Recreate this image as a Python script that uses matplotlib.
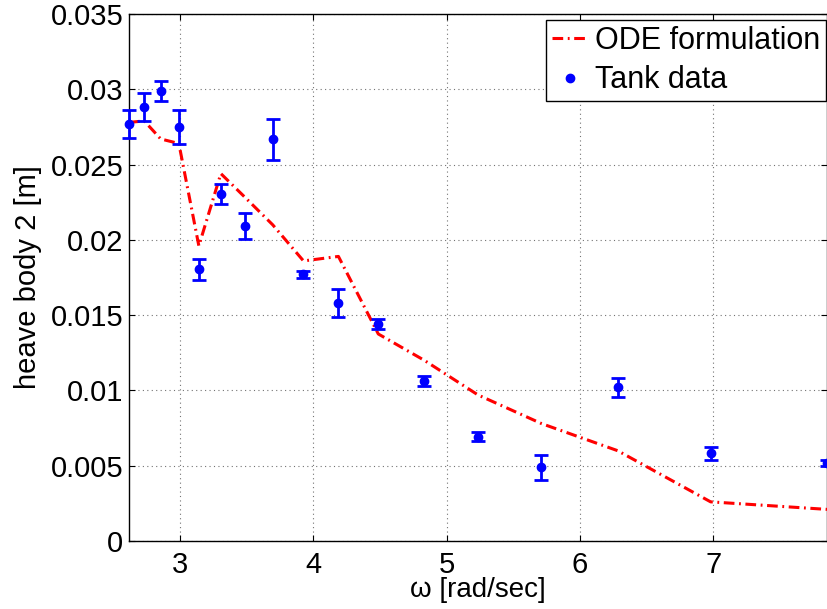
import matplotlib
matplotlib.use("Agg")
import matplotlib.pyplot as plt
from matplotlib.lines import Line2D

# Data
omega = [2.618, 2.732, 2.856, 2.992, 3.142, 3.307, 3.491, 3.696, 3.927,
         4.189, 4.488, 4.833, 5.236, 5.712, 6.283, 6.981, 7.854]
ode_heave = [0.0278, 0.0279, 0.0267, 0.0264, 0.0196, 0.0244, 0.0228, 0.0210,
             0.0186, 0.0189, 0.01375, 0.0120, 0.0097, 0.0078, 0.0060, 0.0026, 0.0021]
tank_heave = [0.02769, 0.02884, 0.0299, 0.02747, 0.01804, 0.02304, 0.02092,
              0.02667, 0.01771, 0.01578, 0.01439, 0.01062, 0.00693, 0.00489,
              0.01021, 0.00582, 0.00516]
tank_err = [0.00092, 0.00092, 0.00068, 0.00113, 0.0007, 0.00068, 0.00088,
            0.00137, 0.00024, 0.00093, 0.00033, 0.00035, 0.0003, 0.00083,
            0.00064, 0.00044, 0.0002]

x_ticks = [3, 4, 5, 6, 7]
y_ticks = [0, 0.005, 0.01, 0.015, 0.02, 0.025, 0.03, 0.035]
y_ticklabels = ["0", "0.005", "0.01", "0.015", "0.02", "0.025", "0.03", "0.035"]

plt.rcParams['font.family'] = ['Liberation Sans', 'DejaVu Sans']

fig = plt.figure(figsize=(8.27, 6.09), dpi=100)
ax = fig.add_axes([129 / 827, 68 / 609, 698 / 827, 527 / 609])

ode_line, = ax.plot(omega, ode_heave, color='red', lw=2.2,
                    linestyle=(0, (3.5, 1.5, 0.6, 1.5)), zorder=3)
ax.errorbar(omega, tank_heave, yerr=tank_err, fmt='o', color='blue',
            ecolor='blue', markersize=6, elinewidth=2.0, capsize=4.8,
            capthick=2.0, zorder=4, clip_on=False)

ax.set_xlim(omega[0], omega[-1])
ax.set_ylim(0, 0.035)
ax.set_xticks(x_ticks)
ax.set_yticks(y_ticks)
ax.set_yticklabels(y_ticklabels)

ax.grid(True, color='0.45', linestyle=(0, (1, 3)), linewidth=0.8)
ax.tick_params(direction='in', length=4.5, width=0.8, top=True, right=True,
               labelsize=21)
ax.tick_params(axis='x', pad=7)
ax.tick_params(axis='y', pad=4)
for sp in ax.spines.values():
    sp.set_linewidth(1.0)

ax.set_xlabel('ω [rad/sec]', fontsize=20, labelpad=-1)
ax.set_ylabel('heave body 2 [m]', fontsize=21, labelpad=6)

h_ode = Line2D([], [], color='red', lw=2.2, linestyle=(0, (3.5, 1.5, 0.6, 1.5)))
h_tank = Line2D([], [], color='blue', marker='o', markersize=6, linestyle='none')
leg = ax.legend([h_ode, h_tank], ['ODE formulation', 'Tank data'],
                loc='upper right',
                bbox_to_anchor=(826 / 827, 1 - 20 / 609),
                bbox_transform=fig.transFigure, borderaxespad=0,
                fontsize=22, frameon=True, fancybox=False, framealpha=1,
                edgecolor='black', handlelength=1.2, handletextpad=0.2,
                borderpad=0.2, labelspacing=0.3, numpoints=1)
leg.get_frame().set_linewidth(1.0)

fig.savefig('out.png', dpi=100)
